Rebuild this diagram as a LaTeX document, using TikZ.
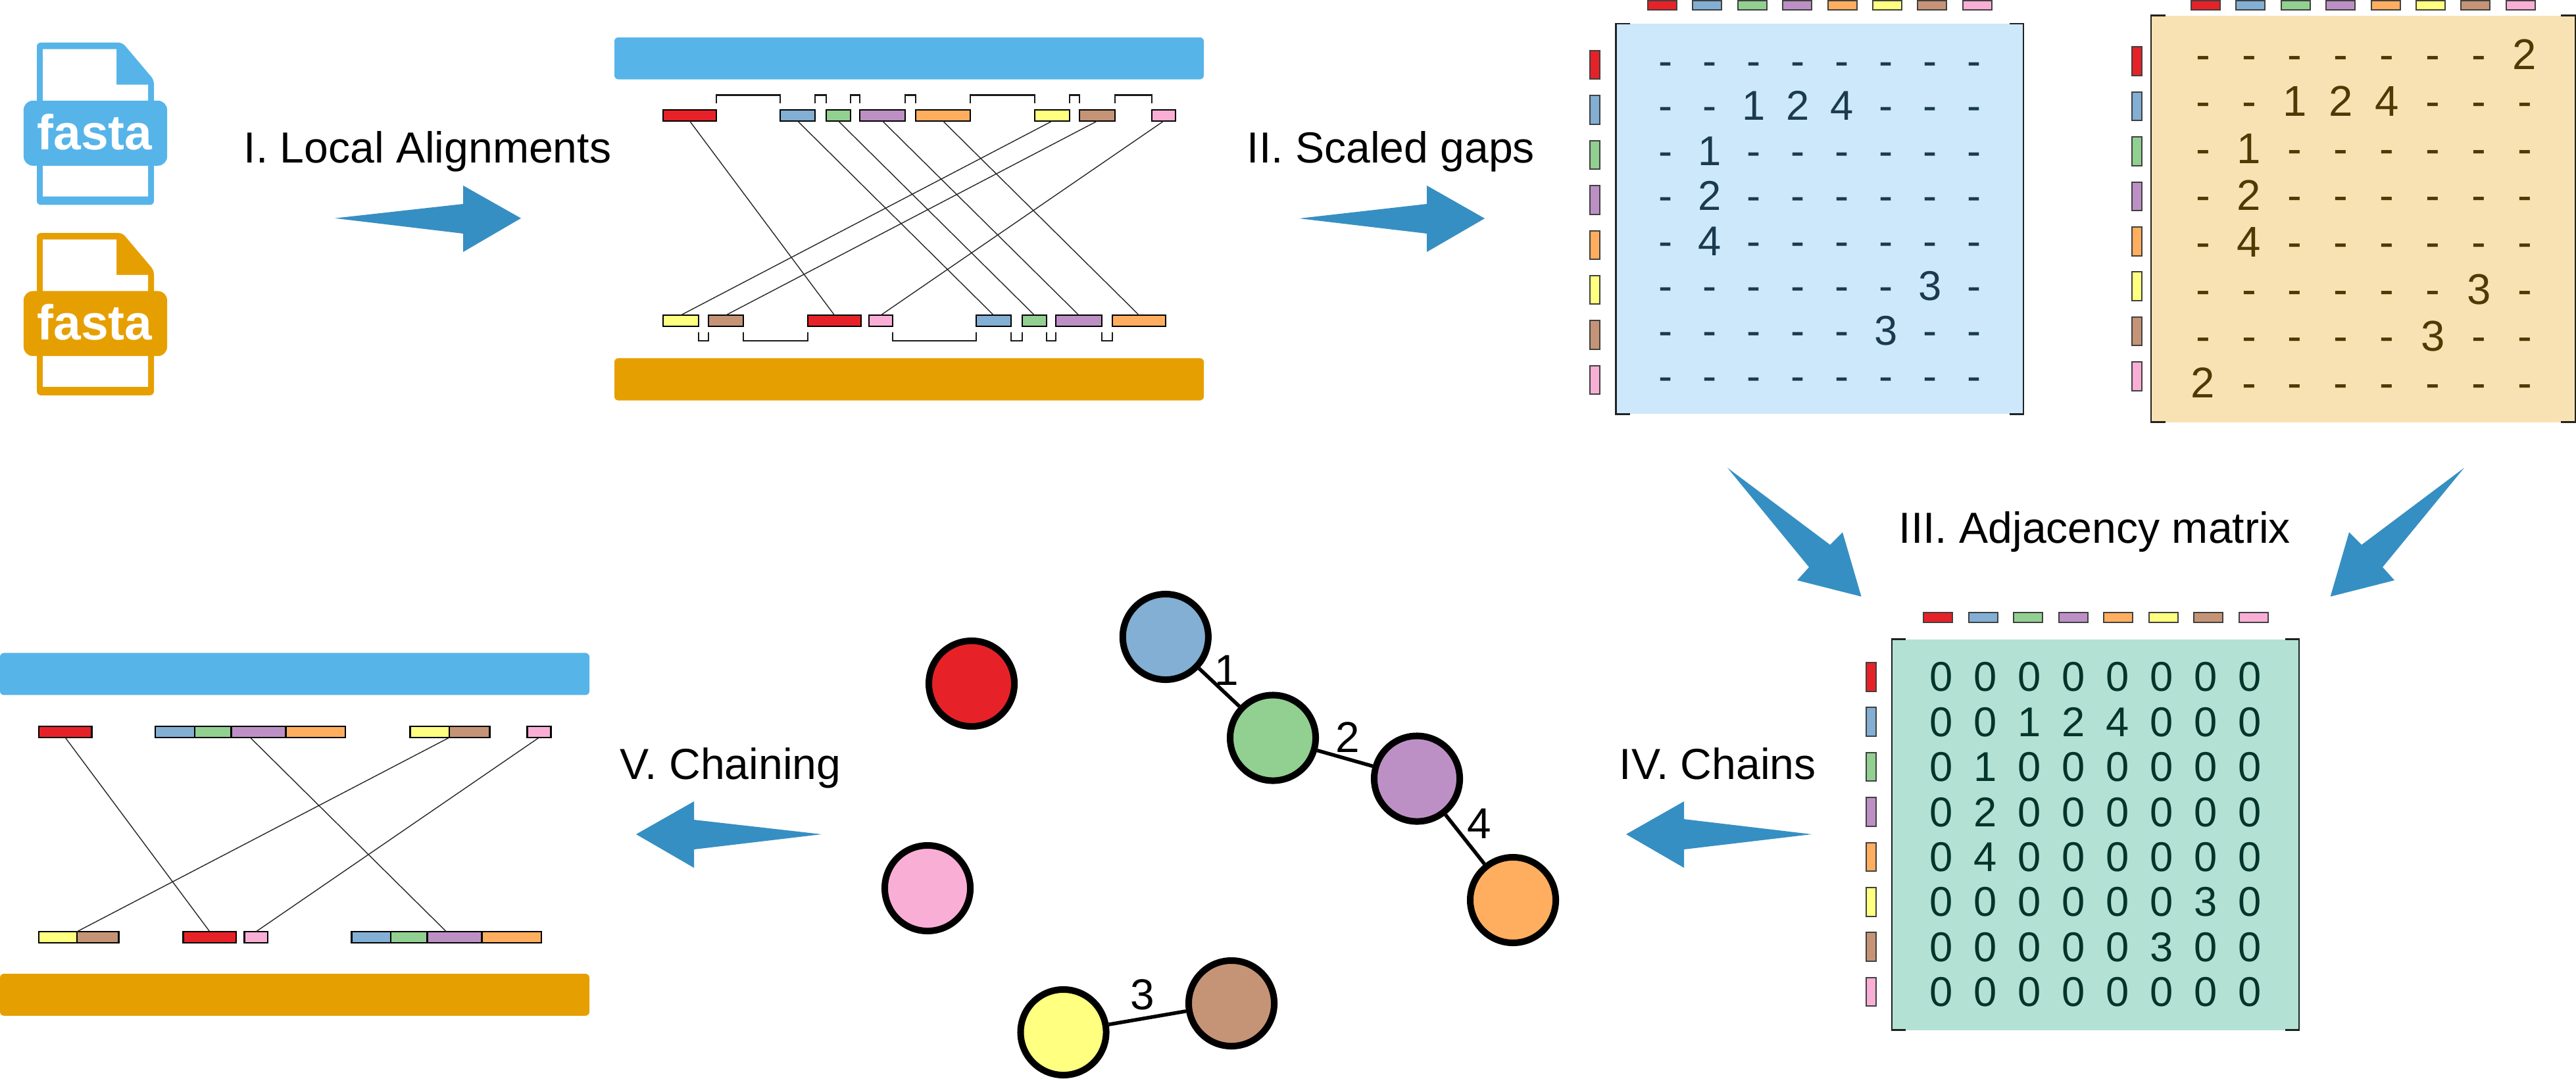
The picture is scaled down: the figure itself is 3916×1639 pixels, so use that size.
\documentclass[tikz,border=0pt]{standalone}
\usepackage{fontspec}
\setmainfont{Liberation Sans}
\definecolor{cr}{HTML}{E62228}
\definecolor{cb}{HTML}{82AFD3}
\definecolor{cg}{HTML}{91D090}
\definecolor{cp}{HTML}{BD90C5}
\definecolor{co}{HTML}{FFAE60}
\definecolor{cy}{HTML}{FFFF80}
\definecolor{cn}{HTML}{C59476}
\definecolor{ck}{HTML}{F9AED6}
\definecolor{skyb}{HTML}{56B4E9}
\definecolor{ambr}{HTML}{E69F00}
\definecolor{arrowc}{HTML}{368FC2}
\definecolor{fillb}{HTML}{CCE8FA}
\definecolor{fillo}{HTML}{F8E2B3}
\definecolor{fillg}{HTML}{B3E2D5}
\definecolor{textb}{HTML}{1B3A4F}
\definecolor{texto}{HTML}{4F3A04}
\definecolor{textg}{HTML}{04352A}
\tikzset{
  seg/.style={draw=black,line width=.025cm,inner sep=0pt,outer sep=0pt},
  chip/.style={draw=black!75,line width=.02cm,inner sep=0pt,outer sep=0pt},
  lnk/.style={draw=black!85,line width=.014cm},
  gapl/.style={draw=black!90,line width=.026cm},
  seqbar/.style={inner sep=0pt,outer sep=0pt,rounded corners=.06cm},
  steplabel/.style={anchor=base west,inner sep=0pt,font=\fontsize{18.8}{20}\selectfont},
  gnode/.style={circle,draw=black,line width=.1cm,minimum size=1.3cm,inner sep=0pt},
  gedge/.style={draw=black,line width=.055cm},
  edgenum/.style={anchor=base,inner sep=0pt,font=\fontsize{18.7}{20}\selectfont},
  bigarrow/.style={fill=arrowc},
  bracketl/.style={line width=.028cm},
}
% name, colour, x1, x2, y1, y2
\newcommand\SegBox[6]{\node[seg,fill=#2,minimum width={(#4-#3)*0.01cm},minimum height={(#6-#5)*0.01cm}] (#1) at ({(#3+#4)/2},{(#5+#6)/2}) {};}
\newcommand\BarBox[6]{\node[seqbar,fill=#2,minimum width={(#4-#3)*0.01cm},minimum height={(#6-#5)*0.01cm}] (#1) at ({(#3+#4)/2},{(#5+#6)/2}) {};}
\newcommand\GapTop[2]{\draw[gapl] ([yshift=1mm]#1.north east) -- ([yshift=2.25mm]#1.north east) -| ([yshift=1mm]#2.north west);}
\newcommand\GapBot[2]{\draw[gapl] ([yshift=-.9mm]#1.south east) -- ([yshift=-2.2mm]#1.south east) -| ([yshift=-.9mm]#2.south west);}
% name, x0, dx, ytop, ybottom
\newcommand\ChipsTop[5]{\foreach \colr [count=\ii] in {cr,cb,cg,cp,co,cy,cn,ck}{
  \node[chip,fill=\colr,minimum width=.44cm,minimum height={(#5-#4)*0.01cm}] (#1t\ii) at ({#2+(\ii-1)*#3},{(#4+#5)/2}) {};}}
% name, y0, dy, xleft, xright
\newcommand\ChipsLeft[5]{\foreach \colr [count=\ii] in {cr,cb,cg,cp,co,cy,cn,ck}{
  \node[chip,fill=\colr,minimum height=.435cm,minimum width={(#5-#4)*0.01cm}] (#1l\ii) at ({(#4+#5)/2},{#2+(\ii-1)*#3}) {};}}
% name, x1, x2, y1, y2, tick, colour
\newcommand\MatBack[7]{\node[inner sep=0pt,outer sep=0pt,fill=#7,minimum width={(#3-#2)*0.01cm},minimum height={(#5-#4)*0.01cm}] (#1) at ({(#2+#3)/2},{(#4+#5)/2}) {};
  \draw[bracketl,draw=#7!15!black] ([xshift=#6]#1.north west) -- (#1.north west) -- (#1.south west) -- ([xshift=#6]#1.south west);
  \draw[bracketl,draw=#7!15!black] ([xshift=-#6]#1.north east) -- (#1.north east) -- (#1.south east) -- ([xshift=-#6]#1.south east);}
% name, x0, dx, y0, dy, colour, size, rows
\newcommand\MatGrid[8]{\foreach \rowdata [count=\rw] in {#8}{\foreach \val [count=\cl] in \rowdata{
  \node[anchor=base,inner sep=0pt,text=#6,font=\fontsize{#7}{20}\selectfont] (#1r\rw c\cl) at ({#2+(\cl-1)*#3},{#4+(\rw-1)*#5}) {\val};}}}
% name, colour
\newcommand\FileIcon[2]{
  \fill[#2,rounded corners=.06cm] (56,64.7) -- (186,64.7) -- (234,121.5) -- (234,311.4) -- (56,311.4) -- cycle;
  \fill[white] (65,74.6) -- (177,74.6) -- (177,128.5) -- (225,128.5) -- (225,298.5) -- (65,298.5) -- cycle;
  \node[inner sep=0pt,outer sep=0pt,fill=#2,rounded corners=.14cm,minimum width=2.18cm,minimum height=.987cm] (#1box) at (145,202.4) {};
  \node[anchor=base,inner sep=0pt,text=white,font=\fontsize{21.3}{24}\selectfont\bfseries] (#1txt) at (144,227.2) {fasta};
}
\begin{document}
\begin{tikzpicture}[x=0.01cm,y=-0.01cm]
\useasboundingbox (0,0) rectangle (3916,1639);
\fill[white] (0,0) rectangle (3916,1639);

% fasta files
\FileIcon{fa}{skyb}
\begin{scope}[shift={(0,289.4)}]
\FileIcon{fb}{ambr}
\end{scope}

% step labels
\node[steplabel] (l1) at (370,247.5) {I. Local Alignments};
\node[steplabel] (l2) at (1895,247) {II. Scaled gaps};
\node[steplabel] (l3) at (2886,825) {III. Adjacency matrix};
\node[steplabel] (l4) at (2461,1184) {IV. Chains};
\node[steplabel] (l5) at (942,1184) {V. Chaining};

% big arrows
\fill[bigarrow] (509,331.7) -- (704,310) -- (704,282) -- (792,331.7) -- (704,383) -- (704,355) -- cycle;
\fill[bigarrow] (1975,332) -- (2169,310) -- (2169,282) -- (2257,332) -- (2169,383) -- (2169,355) -- cycle;
\fill[bigarrow] (2626,711) -- (2782,828) -- (2801,809) -- (2829.5,906.7) -- (2732,882) -- (2750,862) -- cycle;
\fill[bigarrow] (3746,711) -- (3590,828) -- (3571,809) -- (3542.6,906.7) -- (3640,882) -- (3622,862) -- cycle;
\fill[bigarrow] (2754,1268) -- (2560,1245) -- (2560,1218) -- (2472,1268) -- (2560,1319) -- (2560,1291) -- cycle;
\fill[bigarrow] (1249,1268) -- (1055,1246) -- (1055,1218) -- (967,1268) -- (1055,1319) -- (1055,1291) -- cycle;

% panel I
\BarBox{ba}{skyb}{934}{1830}{56.8}{120.6}
\BarBox{bb}{ambr}{934}{1830}{544.4}{608.6}
\SegBox{ar}{cr}{1008}{1089}{167}{184}
\SegBox{ab}{cb}{1186}{1239}{167}{184}
\SegBox{ag}{cg}{1256}{1293}{167}{184}
\SegBox{ap}{cp}{1307}{1376}{167}{184}
\SegBox{ao}{co}{1392}{1475}{167}{184}
\SegBox{ay}{cy}{1573}{1626}{167}{184}
\SegBox{an}{cn}{1641}{1695}{167}{184}
\SegBox{ak}{ck}{1751}{1787}{167}{184}
\SegBox{cY}{cy}{1008}{1062}{479}{496}
\SegBox{cN}{cn}{1077}{1130}{479}{496}
\SegBox{cR}{cr}{1228}{1309}{479}{496}
\SegBox{cK}{ck}{1321}{1357}{479}{496}
\SegBox{cB}{cb}{1484}{1537}{479}{496}
\SegBox{cG}{cg}{1554}{1591}{479}{496}
\SegBox{cP}{cp}{1605}{1675}{479}{496}
\SegBox{cO}{co}{1691}{1772}{479}{496}
\GapTop{ar}{ab}\GapTop{ab}{ag}\GapTop{ag}{ap}\GapTop{ap}{ao}\GapTop{ao}{ay}\GapTop{ay}{an}\GapTop{an}{ak}
\GapBot{cY}{cN}\GapBot{cN}{cR}\GapBot{cK}{cB}\GapBot{cB}{cG}\GapBot{cG}{cP}\GapBot{cP}{cO}
\draw[lnk] (ar.south) -- (cR.north);
\draw[lnk] (ab.south) -- (cB.north);
\draw[lnk] (ag.south) -- (cG.north);
\draw[lnk] (ap.south) -- (cP.north);
\draw[lnk] (ao.south) -- (cO.north);
\draw[lnk] (ay.south) -- (cY.north);
\draw[lnk] (an.south) -- (cN.north);
\draw[lnk] (ak.south) -- (cK.north);

% matrix 1
\MatBack{ma}{2456.5}{3076}{36}{629.4}{.21cm}{fillb}
\ChipsTop{ma}{2527}{68.4}{1}{15}
\ChipsLeft{ma}{98.7}{68.4}{2417}{2431.5}
\MatGrid{ma}{2532}{67}{114.5}{68.4}{textb}{18}{{-,-,-,-,-,-,-,-},{-,-,1,2,4,-,-,-},{-,1,-,-,-,-,-,-},{-,2,-,-,-,-,-,-},{-,4,-,-,-,-,-,-},{-,-,-,-,-,-,3,-},{-,-,-,-,-,3,-,-},{-,-,-,-,-,-,-,-}}

% matrix 2
\MatBack{mb}{3270}{3915}{23.6}{641.8}{.22cm}{fillo}
\ChipsTop{mb}{3353}{68.4}{1}{15}
\ChipsLeft{mb}{92.9}{68.46}{3240.5}{3255.5}
\MatGrid{mb}{3349}{69.86}{105.7}{71.26}{texto}{18.6}{{-,-,-,-,-,-,-,2},{-,-,1,2,4,-,-,-},{-,1,-,-,-,-,-,-},{-,2,-,-,-,-,-,-},{-,4,-,-,-,-,-,-},{-,-,-,-,-,-,3,-},{-,-,-,-,-,3,-,-},{2,-,-,-,-,-,-,-}}

% matrix 3
\MatBack{mc}{2876}{3495}{971.6}{1565.6}{.21cm}{fillg}
\ChipsTop{mc}{2946.4}{68.45}{931.2}{946}
\ChipsLeft{mc}{1028.8}{68.4}{2837}{2851.5}
\MatGrid{mc}{2951}{67}{1050.9}{68.4}{textg}{18}{{0,0,0,0,0,0,0,0},{0,0,1,2,4,0,0,0},{0,1,0,0,0,0,0,0},{0,2,0,0,0,0,0,0},{0,4,0,0,0,0,0,0},{0,0,0,0,0,0,3,0},{0,0,0,0,0,3,0,0},{0,0,0,0,0,0,0,0}}

% graph
\node[gnode,fill=cb] (gb) at (1771.8,968) {};
\node[gnode,fill=cr] (gr) at (1477,1039) {};
\node[gnode,fill=cg] (gg) at (1935,1121.5) {};
\node[gnode,fill=cp] (gp) at (2154,1183.5) {};
\node[gnode,fill=co] (go) at (2300,1368) {};
\node[gnode,fill=ck] (gk) at (1410,1350) {};
\node[gnode,fill=cy] (gy) at (1616.5,1569) {};
\node[gnode,fill=cn] (gn) at (1872,1525) {};
\draw[gedge] (gb) -- (gg);
\draw[gedge] (gg) -- (gp);
\draw[gedge] (gp) -- (go);
\draw[gedge] (gy) -- (gn);
\node[edgenum] (e1) at (1865,1041) {1};
\node[edgenum] (e2) at (2048.5,1143) {2};
\node[edgenum] (e4) at (2249,1274.5) {4};
\node[edgenum] (e3) at (1737,1534) {3};

% panel V
\BarBox{da}{skyb}{0}{896}{992.4}{1056.4}
\BarBox{db}{ambr}{0}{896}{1480}{1543.8}
\SegBox{dr}{cr}{59}{139.4}{1104}{1121}
\SegBox{db1}{cb}{236}{296}{1104}{1121}
\SegBox{dg}{cg}{296}{351.4}{1104}{1121}
\SegBox{dp}{cp}{351.4}{434.4}{1104}{1121}
\SegBox{do}{co}{434.4}{525}{1104}{1121}
\SegBox{dy}{cy}{623.5}{683}{1104}{1121}
\SegBox{dn}{cn}{683}{744.6}{1104}{1121}
\SegBox{dk}{ck}{801.6}{837.3}{1104}{1121}
\SegBox{eY}{cy}{59}{117}{1416}{1433}
\SegBox{eN}{cn}{117}{180.5}{1416}{1433}
\SegBox{eR}{cr}{278.7}{359}{1416}{1433}
\SegBox{eK}{ck}{371.4}{407}{1416}{1433}
\SegBox{eB}{cb}{534.4}{593.8}{1416}{1433}
\SegBox{eG}{cg}{593.8}{649.5}{1416}{1433}
\SegBox{eP}{cp}{649.5}{732.5}{1416}{1433}
\SegBox{eO}{co}{732.5}{822.8}{1416}{1433}
\draw[lnk] (dr.south) -- (eR.north);
\draw[lnk] (dy.south east) -- (eY.north east);
\draw[lnk] (dk.south) -- (eK.north);
\draw[lnk] ([xshift=-1.25mm]dp.south) -- ([xshift=-1.25mm]eP.north);
\end{tikzpicture}
\end{document}
